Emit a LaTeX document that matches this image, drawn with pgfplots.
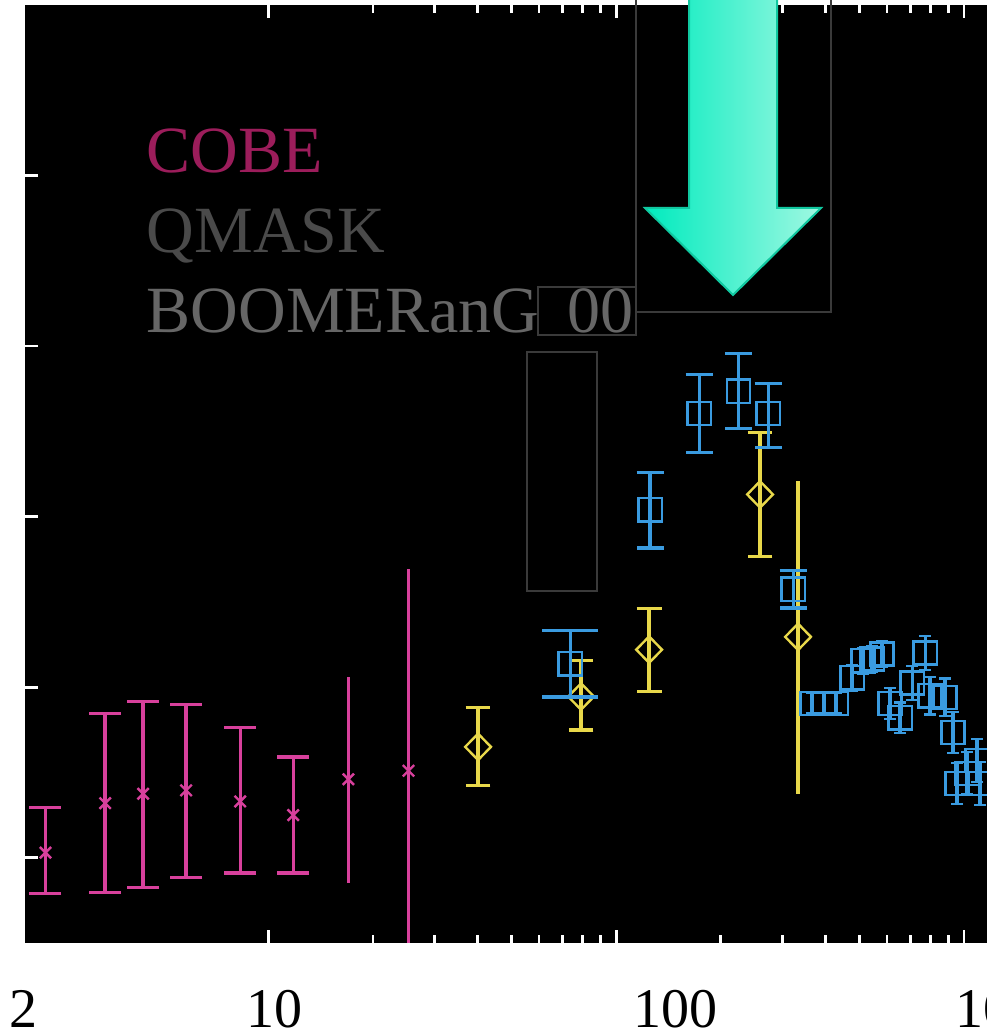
\documentclass[border=0pt]{standalone}
\usepackage{pgfplots}
\pgfplotsset{compat=1.18}
\usepackage{fontspec}
\setmainfont{Liberation Serif}
\definecolor{cobebar}{HTML}{D8409C}
\definecolor{cobetext}{HTML}{9C1D5B}
\definecolor{qmask}{HTML}{E8D84A}
\definecolor{boom}{HTML}{3A9BE0}
\definecolor{legq}{HTML}{4A4A4A}
\definecolor{legb}{HTML}{666666}
\definecolor{boxline}{HTML}{3A3A3A}
\definecolor{arrL}{HTML}{00EBBE}
\definecolor{arrR}{HTML}{A0F8E2}
\definecolor{arrE}{HTML}{10C8A0}
\begin{document}
\begin{tikzpicture}
\begin{axis}[
  at={(0,0)}, anchor=south west,
  scale only axis, width=243.2pt, height=234.5pt,
  xmode=log, xmin=2, xmax=1250, ymin=10, ymax=120,
  axis background/.style={fill=black},
  axis line style={draw=none},
  tick style={white, line width=0.7pt},
  tick align=inside,
  major tick length=3.25pt, minor tick length=1.9pt,
  xtick={10,100,1000}, xticklabels={},
  ytick={20,40,60,80,100}, yticklabels={},
  ytick pos=left,
  clip mode=individual,
  error bars/error bar style={line width=0.85pt},
]
% COBE
\addplot[only marks, mark=x, mark size=2pt, color=cobebar, line width=0.6pt,
  error bars/.cd, y dir=both, y explicit,
  error mark options={rotate=90, mark size=4pt, line width=0.85pt, color=cobebar}]
  table[x=x, y=y, y error plus=ep, y error minus=em] {
x y ep em
2.29 20.6 5.3 4.8
3.40 26.4 10.5 10.5
4.37 27.5 10.8 11.0
5.81 27.9 10.1 10.2
8.31 26.6 8.7 8.4
11.8 25.0 6.8 6.8
};
\addplot[only marks, mark=x, mark size=2pt, color=cobebar, line width=0.6pt,
  error bars/.cd, y dir=both, y explicit, error mark=none]
  table[x=x, y=y, y error plus=ep, y error minus=em] {
x y ep em
17.0 29.2 12.0 12.2
25.3 30.2 23.7 23.7
};
% QMASK
\addplot[only marks, mark=diamond, mark size=3.3pt, color=qmask, line width=0.6pt,
  mark options={xscale=1.3},
  error bars/.cd, y dir=both, y explicit,
  error mark options={rotate=90, mark size=3.1pt, line width=0.85pt, color=qmask, xscale=1}]
  table[x=x, y=y, y error plus=ep, y error minus=em] {
x y ep em
40.1 33.0 4.6 4.5
79.3 38.9 4.2 3.9
124.4 44.4 4.8 4.9
259.2 62.6 7.3 7.3
};
\addplot[only marks, mark=diamond, mark size=3.3pt, color=qmask, line width=0.6pt,
  mark options={xscale=1.3},
  error bars/.cd, y dir=both, y explicit, error mark=none]
  table[x=x, y=y, y error plus=ep, y error minus=em] {
x y ep em
333.3 45.9 18.3 18.4
};
% BOOMERanG
\addplot[only marks, mark=square, mark size=2.9pt, color=boom, line width=0.6pt,
  error bars/.cd, y dir=both, y explicit,
  error mark options={rotate=90, mark size=7pt, line width=0.85pt, color=boom}]
  table[x=x, y=y, y error plus=ep, y error minus=em] {
x y ep em
73.8 42.75 3.9 3.9
};
\addplot[only marks, mark=square, mark size=2.9pt, color=boom, line width=0.6pt,
  error bars/.cd, y dir=both, y explicit,
  error mark options={rotate=90, mark size=3.4pt, line width=0.85pt, color=boom}]
  table[x=x, y=y, y error plus=ep, y error minus=em] {
x y ep em
125.2 60.8 4.4 4.5
173.3 72.1 4.6 4.6
224.5 74.7 4.4 4.4
273.7 72.1 3.5 4.0
322.8 51.5 2.2 2.2
};
\addplot[only marks, mark=square, mark size=2.9pt, color=boom, line width=0.6pt,
  error bars/.cd, y dir=both, y explicit,
  error mark options={rotate=90, mark size=1.5pt, line width=0.6pt, color=boom}]
  table[x=x, y=y, y error plus=ep, y error minus=em] {
x y ep em
365.9 38.1 1.2 1.2
396.1 38.1 1.2 1.2
428.9 38.1 1.2 1.2
476.7 41.1 1.5 1.5
512.4 43.1 1.5 1.5
544.3 43.3 1.5 1.5
581.2 43.9 1.5 1.5
612.9 38.1 1.8 1.8
655.1 36.4 1.8 1.8
709.6 40.5 2.0 2.0
773.3 44.0 2.0 2.0
798.6 39.0 2.2 2.2
881.5 38.8 2.2 2.2
929.7 34.7 2.4 2.4
955.0 28.7 2.4 2.4
1020.3 29.9 2.5 2.5
1090.0 31.4 2.5 2.5
1111.8 28.7 2.5 2.5
};
\end{axis}
% annotation boxes
\draw[boxline, line width=0.4pt] (152.75pt,236pt) -- (152.75pt,157.75pt) -- (201.5pt,157.75pt) -- (201.5pt,236pt);
\draw[boxline, line width=0.4pt] (128.25pt,164pt) rectangle (152.75pt,152pt);
\draw[boxline, line width=0.4pt] (125.5pt,147.75pt) rectangle (143pt,88pt);
% arrow
\shadedraw[left color=arrL, right color=arrR, draw=arrE, line width=0.5pt]
  (166pt,237pt) -- (166pt,183.75pt) -- (155pt,183.75pt) -- (177pt,162pt)
  -- (199pt,183.75pt) -- (188pt,183.75pt) -- (188pt,237pt) -- cycle;
% legend text
\begin{scope}[every node/.style={inner sep=0pt, font=\fontsize{16.5}{18}\selectfont}]
\node[anchor=base west, text=cobetext] at (30.25pt,192.5pt) {COBE};
\node[anchor=base west, text=legq] at (30.25pt,172.5pt) {QMASK};
\node[anchor=base west, text=legb] at (30.25pt,152.5pt) {BOOMERanG};
\node[anchor=base east, text=legb] at (152.4pt,152.5pt) {00};
\end{scope}
% x tick labels
\begin{scope}[every node/.style={inner sep=0pt, font=\fontsize{14}{16}\selectfont}]
\node[anchor=base] at (-0.4pt,-21pt) {2};
\node[anchor=base] at (62.25pt,-21pt) {10};
\node[anchor=base] at (162.5pt,-21pt) {100};
\node[anchor=base west] at (232.5pt,-21pt) {1000};
\end{scope}
\pgfresetboundingbox
\path (-6.25pt,-23.25pt) rectangle (240.25pt,235.75pt);
\end{tikzpicture}
\end{document}
